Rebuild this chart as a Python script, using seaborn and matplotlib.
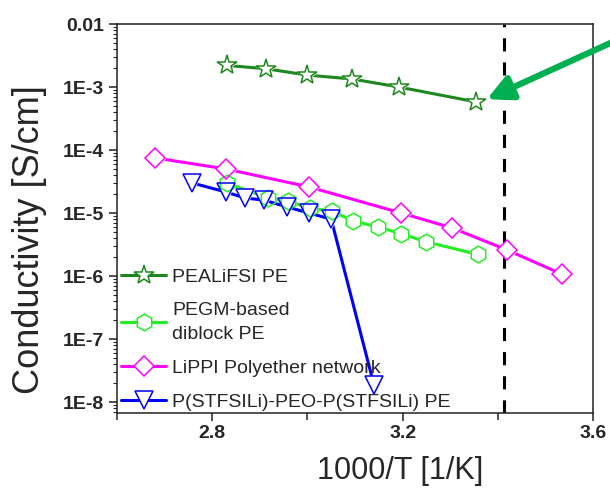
import numpy as np
import pandas as pd
import seaborn as sns
import matplotlib.pyplot as plt
from matplotlib.lines import Line2D
from matplotlib.ticker import LogLocator, MultipleLocator, NullFormatter

# data
peal_x = [2.831, 2.913, 2.999, 3.094, 3.192, 3.354]
peal_y = [2.2e-3, 1.95e-3, 1.55e-3, 1.34e-3, 1.0e-3, 5.8e-4]

pegm_x = [2.831, 2.917, 2.959, 3.005, 3.052, 3.096, 3.148, 3.197, 3.249, 3.358]
pegm_y = [3.0e-5, 1.73e-5, 1.55e-5, 1.2e-5, 1.07e-5, 7.5e-6, 6.0e-6, 4.7e-6, 3.5e-6, 2.2e-6]

lippi_x = [2.680, 2.829, 3.003, 3.197, 3.304, 3.419, 3.535]
lippi_y = [7.5e-5, 5.0e-5, 2.6e-5, 1.0e-5, 5.8e-6, 2.6e-6, 1.07e-6]

pstf_x = [2.758, 2.829, 2.869, 2.909, 2.957, 3.003, 3.050, 3.140]
pstf_y = [3.0e-5, 2.15e-5, 1.73e-5, 1.6e-5, 1.25e-5, 1.0e-5, 8.0e-6, 1.85e-8]

labels = ['PEALiFSI PE', 'PEGM-based\ndiblock PE', 'LiPPI Polyether network',
          'P(STFSILi)-PEO-P(STFSILi) PE']
colors = ['#1e881e', '#22ee22', '#ff00ff', '#0000ff']
markers = ['*', 'h', 'D', 'v']
msizes = [15, 12, 10, 13]

room_temp = 3.413

ytick_vals = [1e-2, 1e-3, 1e-4, 1e-5, 1e-6, 1e-7, 1e-8]
ytick_labels = ['0.01', '1E-3', '1E-4', '1E-5', '1E-6', '1E-7', '1E-8']
xtick_vals = [2.8, 3.2, 3.6]

sns.set_style('ticks')
plt.rcParams['font.family'] = ['Liberation Sans', 'DejaVu Sans']

fig = plt.figure(figsize=(6.1, 4.91), dpi=100)
ax = fig.add_axes([0.1918, 0.1589, 0.7803, 0.7922])

series = [(peal_x, peal_y), (pegm_x, pegm_y), (lippi_x, lippi_y), (pstf_x, pstf_y)]

# lines plus white-filled markers (gap where line meets marker)
for i, (xs, ys) in enumerate(series):
    sns.lineplot(x=xs, y=ys, ax=ax, color=colors[i], lw=2.2, marker=markers[i],
                 ms=msizes[i], mfc='white', mec='white', mew=1.0,
                 estimator=None, zorder=2 + i * 0.1)
# hollow marker outlines on top
for i, (xs, ys) in enumerate(series):
    sns.lineplot(x=xs, y=ys, ax=ax, color=colors[i], ls='none', marker=markers[i],
                 ms=msizes[i], mfc='none', mec=colors[i], mew=1.1,
                 estimator=None, zorder=5)

ax.axvline(room_temp, color='black', lw=2.2, ls=(0, (4.3, 3.6)), zorder=1)

ax.annotate('', xy=(3.377, 6.4e-4), xytext=(1.03, 0.929), textcoords='figure fraction',
            arrowprops=dict(arrowstyle='-|>,head_length=0.6,head_width=0.3',
                            color='#00b050', lw=4.5, mutation_scale=25,
                            shrinkA=0, shrinkB=0),
            annotation_clip=False, zorder=6)

ax.set_yscale('log')
ax.set_xlim(2.6, 3.6)
ax.set_ylim(6.7e-9, 1e-2)
ax.set_yticks(ytick_vals)
ax.set_yticklabels(ytick_labels)
ax.yaxis.set_minor_locator(LogLocator(base=10, subs=np.arange(2, 10), numticks=20))
ax.yaxis.set_minor_formatter(NullFormatter())
ax.set_xticks(xtick_vals)
ax.set_xticklabels([f'{v:.1f}' for v in xtick_vals])
ax.xaxis.set_minor_locator(MultipleLocator(0.2))

for sp in ax.spines.values():
    sp.set_linewidth(1.1)
    sp.set_color('#222222')
ax.tick_params(axis='both', which='major', direction='out', length=6, width=1.1,
               labelsize=14, pad=3, color='#222222')
ax.tick_params(axis='y', which='minor', direction='out', length=3, width=0.8)
ax.tick_params(axis='x', which='minor', direction='out', length=5, width=1.1)
for lab in ax.get_xticklabels() + ax.get_yticklabels():
    lab.set_fontweight('bold')

ax.set_xlabel('1000/T [1/K]', fontsize=22)
ax.xaxis.set_label_coords(0.595, -0.11)
ax.set_ylabel('Conductivity [S/cm]', fontsize=26)
ax.yaxis.set_label_coords(-0.147, 0.445)

handles = [Line2D([], [], color=colors[i], lw=2.2, marker=markers[i], ms=msizes[i],
                  mfc='white', mec=colors[i], mew=1.1) for i in range(4)]
leg = ax.legend(handles, labels, loc='lower left', bbox_to_anchor=(0.005, 0.0),
                frameon=False, fontsize=14, handlelength=2.3, handletextpad=0.3,
                borderaxespad=0, borderpad=0.1, labelspacing=0.85)
leg.get_texts()[1].set_linespacing(1.5)

fig.savefig('out.png', dpi=100)
